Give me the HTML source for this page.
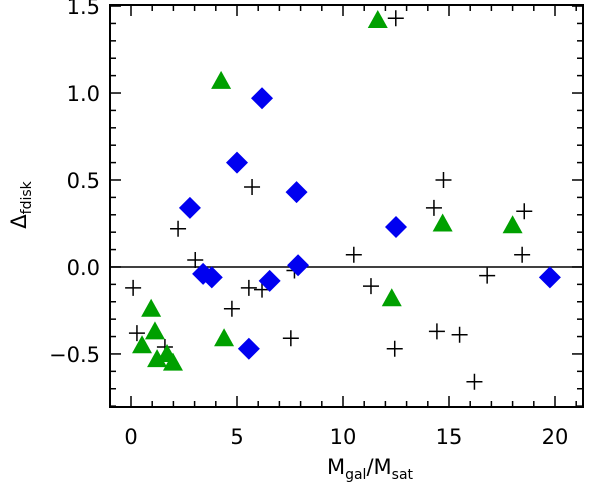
<!DOCTYPE html>
<html><head><meta charset="utf-8"><style>
body{margin:0;background:#fff;width:600px;height:488px;overflow:hidden}
svg text{font-family:"DejaVu Sans","Liberation Sans",sans-serif;fill:#000}
</style></head><body>
<svg id="c" width="600" height="488" viewBox="0 0 600 488" xmlns="http://www.w3.org/2000/svg"></svg>
<script>
const xTicks=[0,5,10,15,20];
const xTickLabels=["0","5","10","15","20"];
const yTicks=[-0.5,0,0.5,1,1.5];
const yTickLabels=["\u22120.5","0.0","0.5","1.0","1.5"];
const diamondX=[2.78,5.0,6.18,7.81,7.88,6.54,3.4,3.81,5.56,12.5,19.76];
const diamondY=[0.34,0.6,0.97,0.43,0.01,-0.08,-0.04,-0.06,-0.47,0.23,-0.06];
const triX=[11.64,4.25,4.39,0.95,1.13,0.52,1.23,1.7,1.98,12.3,14.7,18.0];
const triY=[1.42,1.07,-0.41,-0.24,-0.37,-0.45,-0.53,-0.5,-0.55,-0.18,0.25,0.24];
const crossX=[12.49,5.71,4.76,3.03,2.22,0.1,0.28,1.6,5.56,6.18,7.54,10.51,11.32,12.44,14.29,14.74,14.43,15.5,16.2,16.8,18.55,18.45,7.71];
const crossY=[1.43,0.46,-0.24,0.04,0.22,-0.12,-0.38,-0.46,-0.12,-0.13,-0.41,0.07,-0.11,-0.47,0.34,0.5,-0.37,-0.39,-0.66,-0.05,0.32,0.07,-0.02];
const L=110,R=583,T=5,B=407,X0PX=131,XPX=21.2,YMIN=-0.805,YMAX=1.506;
const XMIN=(L-X0PX)/XPX,XMAX=(R-X0PX)/XPX;
const sx=v=>X0PX+v*XPX;
const sy=v=>B-(v-YMIN)/(YMAX-YMIN)*(B-T);
const svg=document.getElementById('c');const NS="http://www.w3.org/2000/svg";
function mk(t,a,name){const e=document.createElementNS(NS,t);for(const k in a)e.setAttribute(k,a[k]);


svg.appendChild(e);return e;}
mk('rect',{x:L,y:T,width:R-L,height:B-T,fill:'none',stroke:'#000','stroke-width':2},'plot-frame');
for(let v=Math.ceil(XMIN);v<=XMAX;v++){const x=sx(v);const len=(v%5===0)?11:6;
mk('line',{x1:x,y1:B,x2:x,y2:B-len,stroke:'#000','stroke-width':1.5},'x-tick');
mk('line',{x1:x,y1:T,x2:x,y2:T+len,stroke:'#000','stroke-width':1.5},'x-tick-top');}
for(let i=-8;i<=15;i++){const v=i/10;const y=sy(v);if(y<T||y>B)continue;const len=(i%5===0)?11:6;
mk('line',{x1:L,y1:y,x2:L+len,y2:y,stroke:'#000','stroke-width':1.5},'y-tick');
mk('line',{x1:R,y1:y,x2:R-len,y2:y,stroke:'#000','stroke-width':1.5},'y-tick-right');}
xTicks.forEach((v,i)=>{const t=mk('text',{x:sx(v),y:444,'font-size':21,'text-anchor':'middle'},'x-tick-label');t.textContent=xTickLabels[i];});
yTicks.forEach((v,i)=>{const t=mk('text',{x:100,y:sy(v)+8,'font-size':21,'text-anchor':'end'},'y-tick-label');t.textContent=yTickLabels[i];});
mk('line',{x1:L,y1:sy(0),x2:R,y2:sy(0),stroke:'#000','stroke-width':1.5},'zero-line');
crossX.forEach((v,i)=>{const x=sx(v),y=sy(crossY[i]);
mk('path',{d:`M${x-8} ${y}H${x+8}M${x} ${y-8}V${y+8}`,stroke:'#000','stroke-width':1.5},'cross-point');});
triX.forEach((v,i)=>{const x=sx(v),y=sy(triY[i]);
mk('polygon',{points:`${x},${y-10} ${x+10},${y+8} ${x-10},${y+8}`,fill:'#00a000'},'triangle-point');});
diamondX.forEach((v,i)=>{const x=sx(v),y=sy(diamondY[i]);
mk('polygon',{points:`${x},${y-11} ${x+11},${y} ${x},${y+11} ${x-11},${y}`,fill:'#0000f0'},'diamond-point');});
const xl=mk('text',{x:370,y:474,'font-size':21,'text-anchor':'middle'},'x-axis-title');
xl.innerHTML='M<tspan font-size="14" dy="5">gal</tspan><tspan dy="-5">/M</tspan><tspan font-size="14" dy="5">sat</tspan>';
const yl=mk('text',{x:0,y:0,'font-size':21,'text-anchor':'middle',transform:'translate(26,205) rotate(-90)'},'y-axis-title');
yl.innerHTML='\u0394<tspan font-size="14" dy="5">fdisk</tspan>';
</script>
</body></html>
